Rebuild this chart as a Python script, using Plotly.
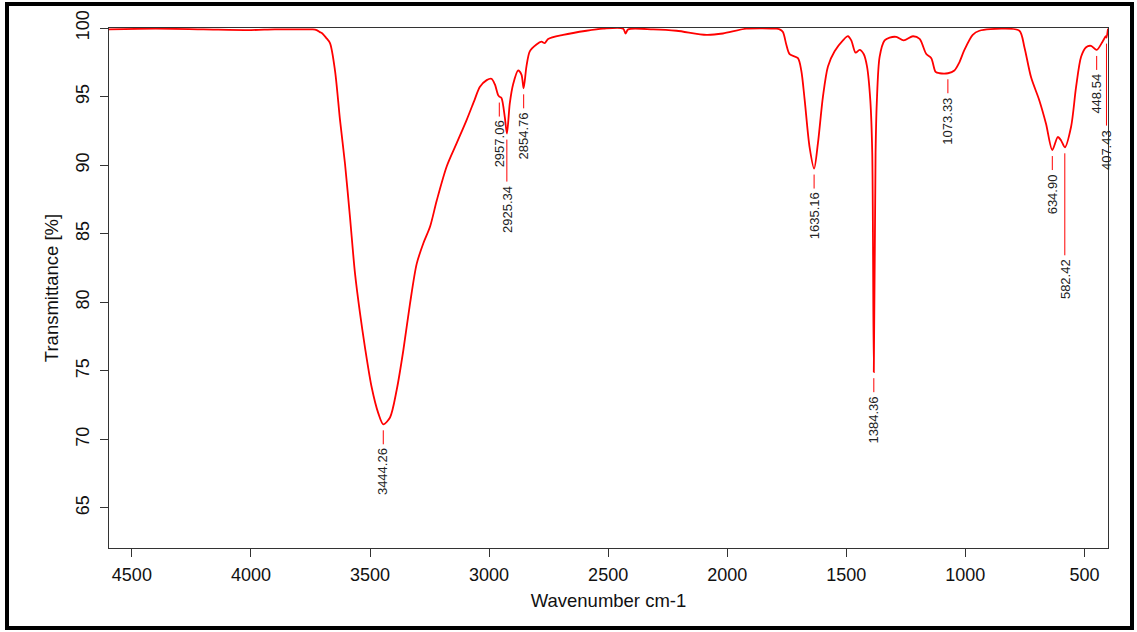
import plotly.graph_objects as go

# ---------------- data ----------------
wavenumber = [4596, 4400, 4200, 4000, 3900, 3760, 3740, 3724, 3710, 3700, 3685, 3668, 3647, 3626,
              3605, 3584, 3563, 3542, 3521, 3493, 3465, 3444, 3416, 3388, 3360, 3332, 3304, 3276,
              3248, 3220, 3178, 3136, 3094, 3060, 3039, 3010, 2990, 2976, 2962, 2957, 2948, 2934,
              2925, 2913, 2899, 2878, 2864, 2855, 2843, 2829, 2801, 2780, 2766, 2752, 2689, 2591,
              2521, 2437, 2427, 2416, 2311, 2213, 2087, 2018, 1920, 1794, 1780, 1766, 1752, 1738,
              1703, 1689, 1675, 1654, 1635, 1619, 1598, 1577, 1549, 1514, 1493, 1479, 1461, 1444,
              1427, 1413, 1399, 1391, 1384.4, 1377, 1372, 1360, 1339, 1318, 1290, 1259, 1220, 1192,
              1164, 1143, 1125, 1108, 1073, 1046, 1025, 1004, 969, 941, 843, 773, 752, 724, 689,
              661, 635, 612, 598, 582, 556, 535, 514, 493, 472, 448.5, 424, 410, 407.4, 401]
transmittance = [99.9, 99.95, 99.9, 99.85, 99.9, 99.9, 99.9, 99.85, 99.7, 99.6, 99.3, 98.9, 96.9, 93.3,
                 90.1, 86.2, 82.1, 79.2, 76.7, 73.8, 71.9, 71.1, 71.6, 73.6, 76.5, 79.9, 82.8, 84.3,
                 85.5, 87.4, 89.9, 91.6, 93.3, 94.8, 95.7, 96.2, 96.3, 95.9, 95.1, 95.0, 94.9, 93.5,
                 92.3, 94.5, 95.9, 96.9, 96.6, 95.6, 97.2, 98.3, 98.8, 99.0, 98.9, 99.2, 99.5, 99.8,
                 99.95, 99.95, 99.6, 99.9, 99.9, 99.8, 99.5, 99.6, 99.95, 99.95, 99.9, 99.7, 98.8, 98.1,
                 97.8, 96.9, 94.8, 91.3, 89.75, 91.6, 95.0, 97.2, 98.3, 99.1, 99.4, 99.1, 98.2, 98.4,
                 98.1, 97.2, 94.7, 90.9, 74.9, 90.9, 94.5, 97.9, 99.1, 99.3, 99.35, 99.1, 99.4, 99.2,
                 98.1, 97.8, 96.8, 96.7, 96.7, 96.9, 97.5, 98.4, 99.5, 99.8, 99.95, 99.8, 98.6, 96.4, 94.7,
                 93.0, 91.1, 92.05, 91.8, 91.3, 92.8, 95.7, 97.9, 98.6, 98.7, 98.4, 99.0, 99.4, 99.3, 99.95]

peak_wn = [3444.26, 2957.06, 2925.34, 2854.76, 1635.16, 1384.36, 1073.33, 634.90, 582.42, 448.54, 407.43]
peak_t = [71.1, 95.0, 92.3, 95.6, 89.75, 74.9, 96.7, 91.1, 91.3, 98.4, 99.3]
peak_labels = ["3444.26", "2957.06", "2925.34", "2854.76", "1635.16", "1384.36", "1073.33",
               "634.90", "582.42", "448.54", "407.43"]

x_ticks = [4500, 4000, 3500, 3000, 2500, 2000, 1500, 1000, 500]
y_ticks = [65, 70, 75, 80, 85, 90, 95, 100]

x_title = "Wavenumber cm-1"
y_title = "Transmittance [%]"

# ---------------- styling ----------------
W, H = 1137, 632
ML, MR, MT, MB = 109, 29, 28, 84
FONT = "Liberation Sans, Arial, sans-serif"
AXC = "#333333"

# marker line length (px) per peak label (longer ones avoid overlapping neighbours)
line_len = {"2925.34": 42, "582.42": 102, "407.43": 82}
GAP = 6
STD_LEN = 14

fig = go.Figure()
fig.add_trace(go.Scatter(x=wavenumber, y=transmittance, mode="lines",
                         line=dict(color="#ff0000", width=1.8, shape="spline", smoothing=0.8),
                         hoverinfo="x+y", showlegend=False))

shapes = []
annotations = []
for wn, t, lab in zip(peak_wn, peak_t, peak_labels):
    L = line_len.get(lab, STD_LEN)
    shapes.append(dict(type="line", xref="x", yref="y", ysizemode="pixel", yanchor=t,
                       x0=wn, x1=wn, y0=-GAP, y1=-(GAP + L),
                       line=dict(color="#ff0000", width=1)))
    annotations.append(dict(x=wn, y=t, xref="x", yref="y", text=lab, showarrow=False,
                            textangle=-90, xanchor="center", yanchor="top",
                            yshift=-(GAP + L + 2),
                            font=dict(family=FONT, size=13, color="#222222")))

# outer frame around whole figure (pixel positions converted to paper coords)
pw, ph = W - ML - MR, H - MT - MB
def px2paper_x(px):
    return (px - ML) / pw
def px2paper_y(py):
    return 1 - (py - MT) / ph
shapes.append(dict(type="rect", xref="paper", yref="paper",
                   x0=px2paper_x(7), x1=px2paper_x(1132), y0=px2paper_y(628), y1=px2paper_y(4),
                   line=dict(color="#000000", width=4), fillcolor="rgba(0,0,0,0)", layer="above"))

axis_common = dict(showgrid=False, zeroline=False, showline=True, mirror=True, linecolor=AXC,
                   linewidth=1, ticks="outside", ticklen=8, tickcolor=AXC, tickwidth=1,
                   tickfont=dict(family=FONT, size=18, color="#111111"))

fig.update_layout(
    width=W, height=H,
    margin=dict(l=ML, r=MR, t=MT, b=MB, autoexpand=False),
    paper_bgcolor="white", plot_bgcolor="white",
    shapes=shapes, annotations=annotations,
    xaxis=dict(range=[4596, 401], tickvals=x_ticks, ticktext=[str(v) for v in x_ticks],
               ticklabelstandoff=2,
               title=dict(text=x_title, standoff=10, font=dict(family=FONT, size=18.5, color="#111111")),
               **axis_common),
    yaxis=dict(range=[62.08, 100.0], tickvals=y_ticks, ticktext=[str(v) for v in y_ticks],
               tickangle=-90, ticklabelstandoff=4,
               title=dict(text=y_title, standoff=9, font=dict(family=FONT, size=18.5, color="#111111")),
               **axis_common),
)

fig.write_html("out.html", config={"displayModeBar": False},
               post_script="document.body.style.margin='0';document.body.style.overflow='hidden';")
